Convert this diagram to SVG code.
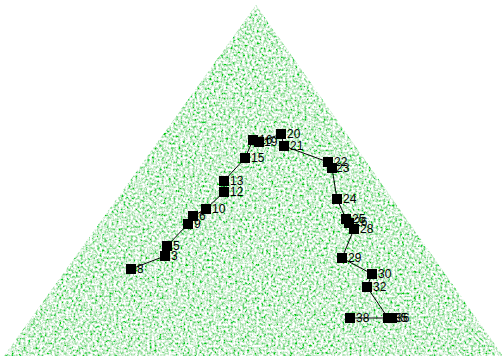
<svg xmlns="http://www.w3.org/2000/svg" width="503" height="356" viewBox="0 0 503 356">
<defs>
<filter id="noise" x="0" y="0" width="100%" height="100%" filterUnits="userSpaceOnUse">
<feTurbulence type="fractalNoise" baseFrequency="0.42" numOctaves="2" seed="3" result="n"/>
<feColorMatrix in="n" type="matrix" values="-2.5 0 0 0 1.9  -0.9 0 0 0 1.32  -2.4 0 0 0 1.87  0 0 0 0 1" result="c"/>
<feGaussianBlur in="c" stdDeviation="0.4" result="b"/>
<feComposite in="b" in2="SourceGraphic" operator="in"/>
</filter>
<rect id="sq" x="-5" y="-5" width="10" height="10" fill="#000"/>
</defs>
<style>
.lbl{font-family:"Liberation Sans",Arial,sans-serif;font-size:12px;fill:#000;}
.edge{stroke:#000;stroke-width:1;fill:none;}
</style>
<rect width="503" height="356" fill="#fff"/>
<polygon points="256,5 4,356 503,356" fill="#000" filter="url(#noise)"/>
<g id="connectors">
<polyline class="edge" points="131,269 165,256 167,246 188,224 193,216 206,209 224,192 224,181 245,158 253,140 259,142 281,134 284,146 328,162 332,168 337,199 346,219 349,223 354,229 342,258 372,274 367,287 388,318 392,318"/>
<line class="edge" x1="350" y1="318" x2="388" y2="318"/>
</g>
<g id="n8"><use href="#sq" x="131" y="269"/><text class="lbl" x="137" y="273">8</text></g>
<g id="n3"><use href="#sq" x="165" y="256"/><text class="lbl" x="171" y="260">3</text></g>
<g id="n5"><use href="#sq" x="167" y="246"/><text class="lbl" x="173" y="250">5</text></g>
<g id="n9"><use href="#sq" x="188" y="224"/><text class="lbl" x="194" y="228">9</text></g>
<g id="n6"><use href="#sq" x="193" y="216"/><text class="lbl" x="199" y="220">6</text></g>
<g id="n10"><use href="#sq" x="206" y="209"/><text class="lbl" x="212" y="213">10</text></g>
<g id="n12"><use href="#sq" x="224" y="192"/><text class="lbl" x="230" y="196">12</text></g>
<g id="n13"><use href="#sq" x="224" y="181"/><text class="lbl" x="230" y="185">13</text></g>
<g id="n15"><use href="#sq" x="245" y="158"/><text class="lbl" x="251" y="162">15</text></g>
<g id="n16"><use href="#sq" x="253" y="140"/><text class="lbl" x="259" y="144">16</text></g>
<g id="n19"><use href="#sq" x="259" y="142"/><text class="lbl" x="264" y="146">19</text></g>
<g id="n20"><use href="#sq" x="281" y="134"/><text class="lbl" x="287" y="138">20</text></g>
<g id="n21"><use href="#sq" x="284" y="146"/><text class="lbl" x="290" y="150">21</text></g>
<g id="n22"><use href="#sq" x="328" y="162"/><text class="lbl" x="334" y="166">22</text></g>
<g id="n23"><use href="#sq" x="332" y="168"/><text class="lbl" x="336" y="172">23</text></g>
<g id="n24"><use href="#sq" x="337" y="199"/><text class="lbl" x="343" y="203">24</text></g>
<g id="n25"><use href="#sq" x="346" y="219"/><text class="lbl" x="352" y="223">25</text></g>
<g id="n26"><use href="#sq" x="349" y="223"/><text class="lbl" x="354" y="226">26</text></g>
<g id="n28"><use href="#sq" x="354" y="229"/><text class="lbl" x="360" y="233">28</text></g>
<g id="n29"><use href="#sq" x="342" y="258"/><text class="lbl" x="348" y="262">29</text></g>
<g id="n30"><use href="#sq" x="372" y="274"/><text class="lbl" x="378" y="278">30</text></g>
<g id="n32"><use href="#sq" x="367" y="287"/><text class="lbl" x="373" y="291">32</text></g>
<g id="n38"><use href="#sq" x="350" y="318"/><text class="lbl" x="356" y="322">38</text></g>
<g id="n35"><use href="#sq" x="388" y="318"/><text class="lbl" x="394" y="322">35</text></g>
<g id="n36"><use href="#sq" x="392" y="318"/><text class="lbl" x="396" y="322">36</text></g>
</svg>
